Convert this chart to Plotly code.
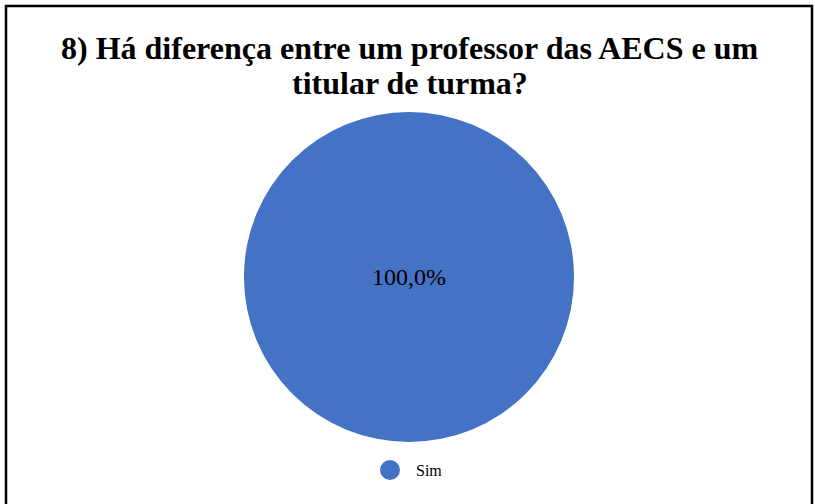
import plotly.graph_objects as go

W, H = 815, 504

labels = ["Sim"]
values = [100]
colors = ["#4472C4"]
title_lines = ["8) Há diferença entre um professor das AECS e um", "titular de turma?"]


def px(x):
    return x / W


def py(y):
    return 1 - y / H


fig = go.Figure()

fig.add_trace(go.Pie(
    labels=labels,
    values=values,
    marker=dict(colors=colors),
    texttemplate="%{percent:.1%}",
    textposition="inside",
    insidetextfont=dict(family="Liberation Serif", size=24, color="black"),
    showlegend=False,
    sort=False,
    hoverinfo="label+percent",
    domain=dict(x=[px(244), px(574)], y=[py(442), py(112)]),
))

fig.update_layout(
    width=W,
    height=H,
    margin=dict(l=0, r=0, t=0, b=0),
    separators=",.",
    paper_bgcolor="white",
    showlegend=False,
)

# title, two lines placed separately for tighter spacing
for i, line in enumerate(title_lines):
    fig.add_annotation(
        text=f"<b>{line}</b>",
        xref="paper", yref="paper",
        x=px(410), y=py(48 + 35 * i),
        xanchor="center", yanchor="middle",
        showarrow=False,
        font=dict(family="Liberation Serif", size=32, color="black"),
    )

# legend drawn by hand: round marker + label
fig.add_shape(
    type="circle", xref="paper", yref="paper",
    x0=px(380), x1=px(400), y0=py(480), y1=py(460),
    fillcolor=colors[0], line=dict(width=0),
)
fig.add_annotation(
    text=labels[0],
    xref="paper", yref="paper",
    x=px(414), y=py(470),
    xanchor="left", yanchor="middle",
    showarrow=False,
    font=dict(family="Liberation Serif", size=16, color="black"),
)

# outer frame
fig.add_shape(
    type="rect", xref="paper", yref="paper",
    x0=px(6), x1=px(812), y0=-0.2, y1=py(6),
    line=dict(color="black", width=2.5),
)

fig.write_html(
    "out.html",
    config={"displayModeBar": False},
    post_script="document.body.style.margin='0';",
)
